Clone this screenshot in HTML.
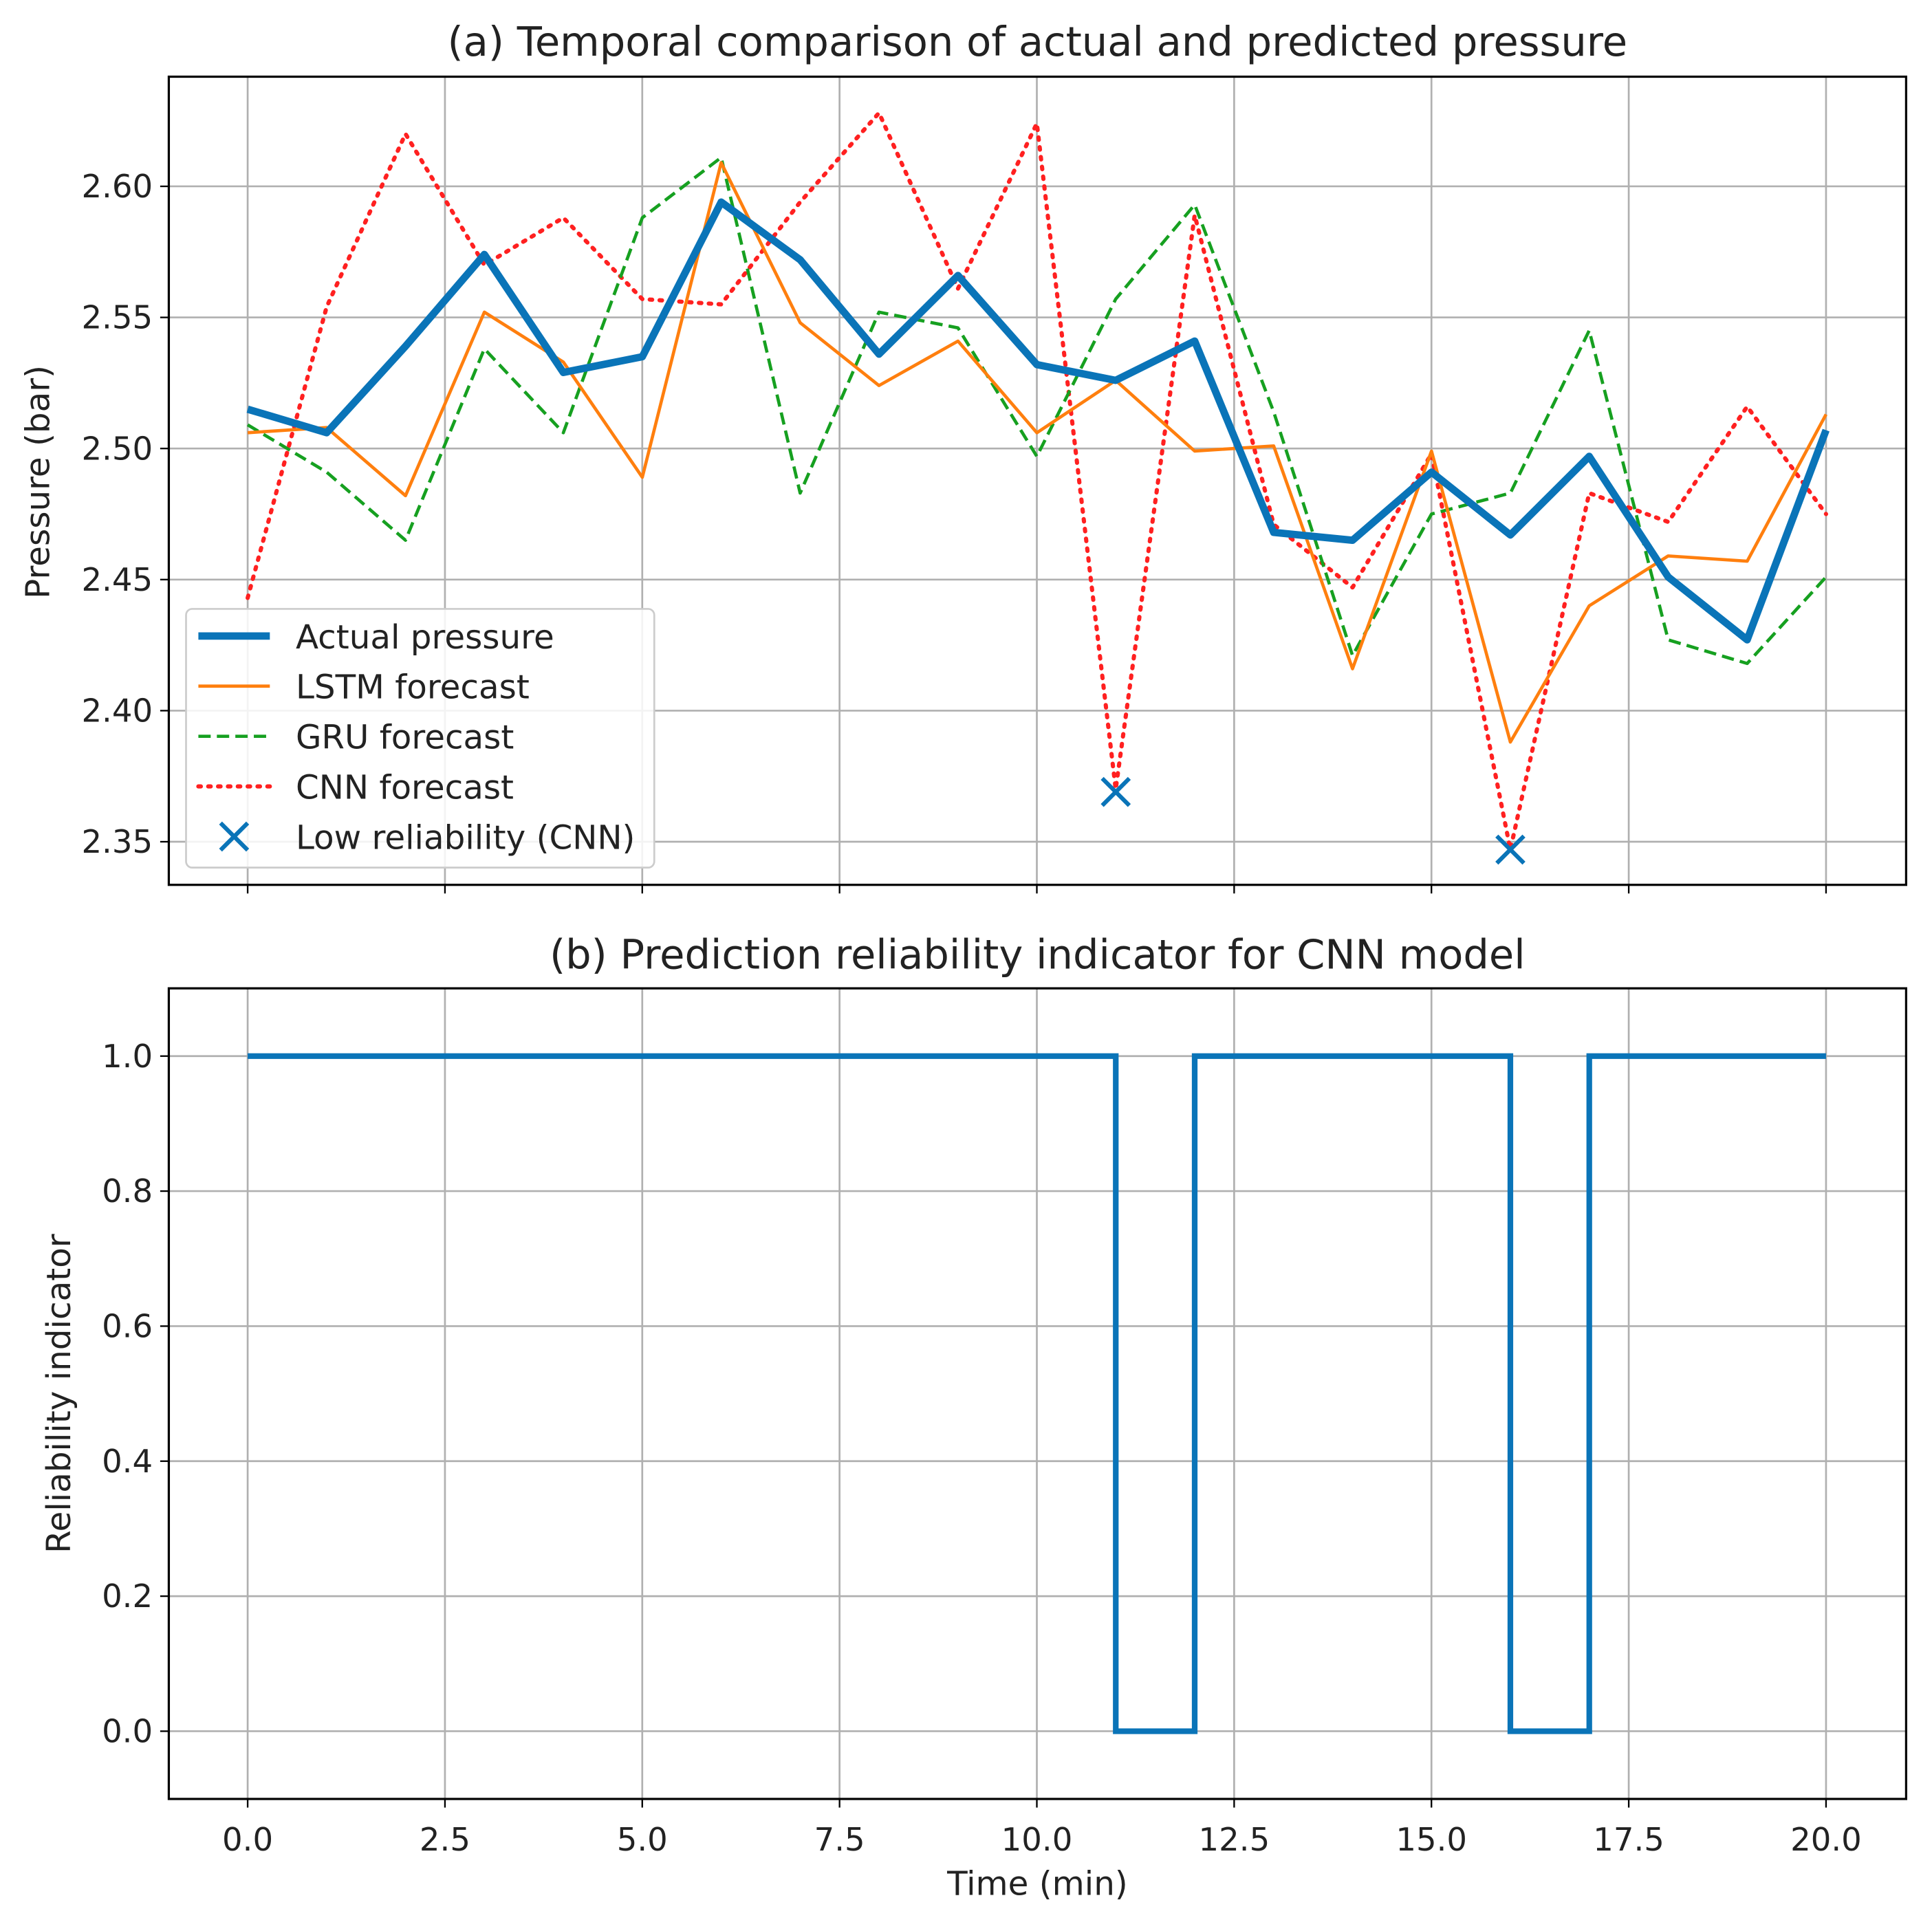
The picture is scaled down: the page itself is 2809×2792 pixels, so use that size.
<!DOCTYPE html>
<html><head><meta charset="utf-8"><style>
html,body{margin:0;padding:0;background:#fff}
svg{display:block}
text{font-family:"DejaVu Sans","Liberation Sans",sans-serif;fill:#222}
</style></head><body>
<svg id="chart" width="2809" height="2792" viewBox="0 0 1568 1558" xmlns="http://www.w3.org/2000/svg">
<g id="g"></g>
</svg>
<script>
const times=[0,1,2,3,4,5,6,7,8,9,10,11,12,13,14,15,16,17,18,19,20];
const actual=[2.515,2.506,2.539,2.574,2.529,2.535,2.594,2.572,2.536,2.566,2.532,2.526,2.541,2.468,2.465,2.491,2.467,2.497,2.451,2.427,2.507];
const lstm=[2.506,2.508,2.482,2.552,2.533,2.489,2.609,2.548,2.524,2.541,2.506,2.526,2.499,2.501,2.416,2.499,2.388,2.440,2.459,2.457,2.513];
const gru=[2.509,2.491,2.465,2.538,2.506,2.588,2.611,2.483,2.552,2.546,2.497,2.557,2.593,2.514,2.421,2.475,2.483,2.545,2.427,2.418,2.451];
const cnn=[2.443,2.554,2.620,2.570,2.588,2.557,2.555,2.594,2.628,2.561,2.624,2.370,2.589,2.471,2.447,2.498,2.347,2.483,2.472,2.516,2.475];
const lowT=[11,16];
const lowV=[2.369,2.347];
const reliability=[1,1,1,1,1,1,1,1,1,1,1,0,1,1,1,1,0,1,1,1,1];
const xTicks=[0,2.5,5,7.5,10,12.5,15,17.5,20];
const yTicksTop=[2.35,2.40,2.45,2.50,2.55,2.60];
const yTicksBot=[0,0.2,0.4,0.6,0.8,1.0];

const NS="http://www.w3.org/2000/svg";
const g=document.getElementById('g');
function el(t,a,txt){const e=document.createElementNS(NS,t);for(const k in a)e.setAttribute(k,a[k]);if(txt!==undefined)e.textContent=txt;g.appendChild(e);return e;}
const L=137,R=1547;
const sx=v=>201+(v-0)*(1482-201)/20;
const syT=v=>151+(2.60-v)*(683-151)/0.25;
const syB=v=>1405-(v)*(1405-857);
const T0=62,T1=718,B0=802,B1=1460;

function axes(top,bot,sy,yt,fmt,name){
  xTicks.forEach(t=>{const e=el('line',{x1:sx(t),x2:sx(t),y1:top,y2:bot,stroke:'#b0b0b0','stroke-width':1.5});
    const k=el('line',{x1:sx(t),x2:sx(t),y1:bot,y2:bot+7,stroke:'#000','stroke-width':1.3});});
  yt.forEach(t=>{const e=el('line',{x1:L,x2:R,y1:sy(t),y2:sy(t),stroke:'#b0b0b0','stroke-width':1.5});
    el('line',{x1:L-7,x2:L,y1:sy(t),y2:sy(t),stroke:'#000','stroke-width':1.3});
    const tx=el('text',{x:L-13,y:sy(t)+9,'text-anchor':'end','font-size':26},fmt(t));});
}
axes(T0,T1,syT,yTicksTop,v=>v.toFixed(2),'top');
axes(B0,B1,syB,yTicksBot,v=>v.toFixed(1),'bottom');
xTicks.forEach(t=>{const tx=el('text',{x:sx(t),y:1502,'text-anchor':'middle','font-size':26},t.toFixed(1));});

function line(vals,sy,attrs,name){const d=vals.map((v,i)=>(i?'L':'M')+sx(times[i]).toFixed(1)+','+sy(v).toFixed(1)).join(' ');
  const p=el('path',Object.assign({d:d,fill:'none','stroke-linejoin':'round'},attrs));}
line(cnn,syT,{stroke:'#ff2020','stroke-width':3.4,'stroke-dasharray':'2,6','stroke-linecap':'round'},'cnn-forecast-line');
line(gru,syT,{stroke:'#16a020','stroke-width':2.6,'stroke-dasharray':'10,5'},'gru-forecast-line');
line(lstm,syT,{stroke:'#ff7f0e','stroke-width':2.6},'lstm-forecast-line');
line(actual,syT,{stroke:'#0a74b8','stroke-width':6},'actual-pressure-line');
lowT.forEach((t,i)=>{const x=sx(t),y=syT(lowV[i]);const m=el('path',{d:`M${x-11},${y-11}L${x+11},${y+11}M${x-11},${y+11}L${x+11},${y-11}`,stroke:'#0a74b8','stroke-width':3.4});});

let d='';reliability.forEach((v,i)=>{const x=sx(times[i]),y=syB(v);if(i===0)d+=`M${x},${y}`;else{d+=` L${x},${syB(reliability[i-1])} L${x},${y}`;}});
const rp=el('path',{d:d,fill:'none',stroke:'#0a74b8','stroke-width':4.6});

[[T0,T1,'top-axes-frame'],[B0,B1,'bottom-axes-frame']].forEach(a=>{const r=el('rect',{x:L,y:a[0],width:R-L,height:a[1]-a[0],fill:'none',stroke:'#000','stroke-width':1.8});});

let t;
t=el('text',{x:842,y:45,'text-anchor':'middle','font-size':33},'(a) Temporal comparison of actual and predicted pressure');
t=el('text',{x:842,y:786,'text-anchor':'middle','font-size':33},'(b) Prediction reliability indicator for CNN model');
t=el('text',{x:842,y:1538,'text-anchor':'middle','font-size':27},'Time (min)');
t=el('text',{x:40,y:391,'text-anchor':'middle','font-size':27,transform:'rotate(-90 40 391)'},'Pressure (bar)');
t=el('text',{x:57,y:1131,'text-anchor':'middle','font-size':27,transform:'rotate(-90 57 1131)'},'Reliability indicator');

const lg=el('rect',{x:151,y:494,width:380,height:210,rx:5,fill:'#fff','fill-opacity':0.85,stroke:'#ccc','stroke-width':1.5});
const entries=[['Actual pressure',{stroke:'#0a74b8','stroke-width':6}],['LSTM forecast',{stroke:'#ff7f0e','stroke-width':2.6}],['GRU forecast',{stroke:'#16a020','stroke-width':2.6,'stroke-dasharray':'10,5'}],['CNN forecast',{stroke:'#ff2020','stroke-width':3.4,'stroke-dasharray':'2,6','stroke-linecap':'round'}],['Low reliability (CNN)',null]];
entries.forEach((e,i)=>{const y=516+i*40.7;
  if(e[1]){el('line',Object.assign({x1:161,x2:219,y1:y,y2:y},e[1]));}
  else{el('path',{d:`M${179},${y-11}L${201},${y+11}M${179},${y+11}L${201},${y-11}`,stroke:'#0a74b8','stroke-width':3.4});}
  const tx=el('text',{x:240,y:y+10,'font-size':27},e[0]);});
</script>
</body></html>
